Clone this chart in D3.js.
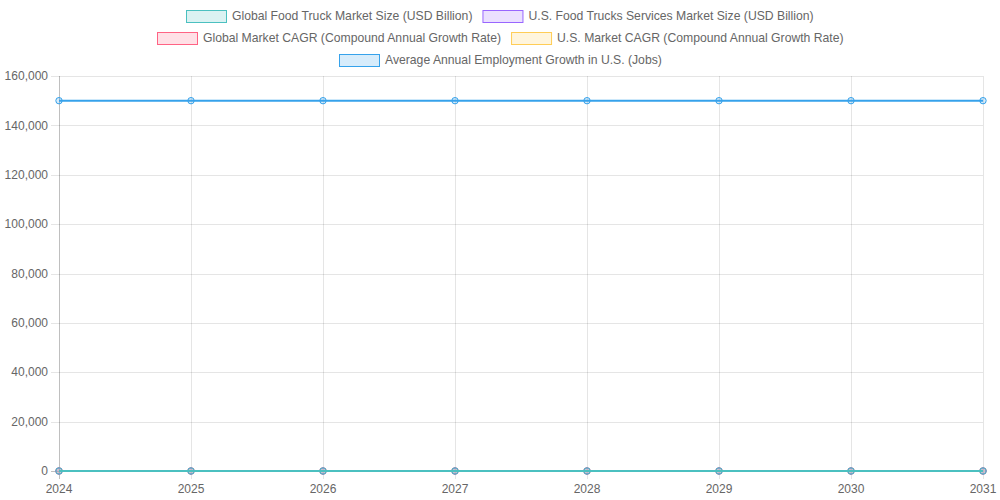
<!DOCTYPE html>
<html>
<head>
<meta charset="utf-8">
<script src="https://cdn.jsdelivr.net/npm/d3@7"></script>
<style>
  body { margin: 0; background: #fff; }
  svg { font-family: "Liberation Sans", Arial, sans-serif; }
</style>
</head>
<body>
<div id="chart"></div>
<script>
const years = [2024, 2025, 2026, 2027, 2028, 2029, 2030, 2031];
const globalMarketSize = [4.2, 4.5, 4.8, 5.1, 5.4, 5.8, 6.2, 6.6];
const usMarketSize = [1.7, 1.8, 1.9, 2.0, 2.1, 2.2, 2.3, 2.4];
const globalCagr = [6.8, 6.8, 6.8, 6.8, 6.8, 6.8, 6.8, 6.8];
const usCagr = [5.4, 5.4, 5.4, 5.4, 5.4, 5.4, 5.4, 5.4];
const employmentGrowth = [150000, 150000, 150000, 150000, 150000, 150000, 150000, 150000];
const yTicks = [0, 20000, 40000, 60000, 80000, 100000, 120000, 140000, 160000];

const series = [
  { name: `Global Food Truck Market Size (USD Billion)`, values: globalMarketSize, rgb: [75, 192, 192] },
  { name: `U.S. Food Trucks Services Market Size (USD Billion)`, values: usMarketSize, rgb: [153, 102, 255] },
  { name: `Global Market CAGR (Compound Annual Growth Rate)`, values: globalCagr, rgb: [255, 99, 132] },
  { name: `U.S. Market CAGR (Compound Annual Growth Rate)`, values: usCagr, rgb: [255, 205, 86] },
  { name: `Average Annual Employment Growth in U.S. (Jobs)`, values: employmentGrowth, rgb: [54, 162, 235] }
];
const legendRows = [[0, 1], [2, 3], [4]];

const width = 1000, height = 500;
const margin = { top: 76, right: 17, bottom: 29, left: 59 };

const svg = d3.select(`#chart`).append(`svg`)
    .attr(`width`, width)
    .attr(`height`, height);

const x = d3.scalePoint()
    .domain(years)
    .range([margin.left, width - margin.right]);
const y = d3.scaleLinear()
    .domain([0, 160000])
    .range([height - margin.bottom, margin.top]);

const rgb = (c) => `rgb(${c.join(`,`)})`;
const rgba = (c, a) => `rgba(${c.join(`,`)},${a})`;

// grid
svg.append(`g`)
  .selectAll(`line`)
  .data(yTicks)
  .join(`line`)
    .attr(`x1`, margin.left - 8)
    .attr(`x2`, width - margin.right)
    .attr(`y1`, (d) => Math.round(y(d)) + 0.5)
    .attr(`y2`, (d) => Math.round(y(d)) + 0.5)
    .attr(`stroke`, (d) => d === 0 ? `rgba(0,0,0,0.25)` : `rgba(0,0,0,0.1)`);

svg.append(`g`)
  .selectAll(`line`)
  .data(years)
  .join(`line`)
    .attr(`x1`, (d) => Math.round(x(d)) + 0.5)
    .attr(`x2`, (d) => Math.round(x(d)) + 0.5)
    .attr(`y1`, margin.top)
    .attr(`y2`, height - margin.bottom + 8)
    .attr(`stroke`, (d, i) => i === 0 ? `rgba(0,0,0,0.25)` : `rgba(0,0,0,0.1)`);

// tick labels
svg.append(`g`)
  .selectAll(`text`)
  .data(yTicks)
  .join(`text`)
    .attr(`x`, margin.left - 11)
    .attr(`y`, (d) => y(d))
    .attr(`dy`, `0.35em`)
    .attr(`text-anchor`, `end`)
    .attr(`font-size`, 12)
    .attr(`fill`, `#666`)
    .text(d3.format(`,`));

svg.append(`g`)
  .selectAll(`text`)
  .data(years)
  .join(`text`)
    .attr(`x`, (d) => x(d))
    .attr(`y`, height - margin.bottom + 18)
    .attr(`dy`, `0.35em`)
    .attr(`text-anchor`, `middle`)
    .attr(`font-size`, 12)
    .attr(`fill`, `#666`)
    .text((d) => d);

// lines, first dataset drawn last so it sits on top
const line = d3.line()
    .x((d, i) => x(years[i]))
    .y((d) => y(d));

const drawOrder = series.slice().reverse();
drawOrder.forEach((s) => {
  const g = svg.append(`g`);
  g.append(`path`)
      .datum(s.values)
      .attr(`fill`, `none`)
      .attr(`stroke`, rgb(s.rgb))
      .attr(`stroke-width`, 2)
      .attr(`d`, line);
  g.selectAll(`circle`)
    .data(s.values)
    .join(`circle`)
      .attr(`cx`, (d, i) => x(years[i]))
      .attr(`cy`, (d) => y(d))
      .attr(`r`, 3.2)
      .attr(`fill`, rgba(s.rgb, 0.2))
      .attr(`stroke`, rgb(s.rgb))
      .attr(`stroke-width`, 1);
});

// legend
const boxW = 40, boxH = 12, gap = 6, itemPad = 10, legendFont = 12.2;
const measure = svg.append(`text`).attr(`font-size`, legendFont).attr(`visibility`, `hidden`);
const textWidth = (t) => { measure.text(t); return measure.node().getComputedTextLength(); };

legendRows.forEach((row, r) => {
  const widths = row.map((i) => boxW + gap + textWidth(series[i].name));
  const total = d3.sum(widths) + itemPad * (row.length - 1);
  let cx = Math.round((width - total) / 2);
  const cy = 16 + r * 22;
  row.forEach((i, k) => {
    const s = series[i];
    svg.append(`rect`)
        .attr(`x`, cx + 0.5)
        .attr(`y`, cy - boxH / 2 + 0.5)
        .attr(`width`, boxW)
        .attr(`height`, boxH)
        .attr(`fill`, rgba(s.rgb, 0.2))
        .attr(`stroke`, rgb(s.rgb))
        .attr(`stroke-width`, 1);
    svg.append(`text`)
        .attr(`x`, cx + boxW + gap)
        .attr(`y`, cy)
        .attr(`dy`, `0.35em`)
        .attr(`font-size`, legendFont)
        .attr(`fill`, `#666`)
        .text(s.name);
    cx += widths[k] + itemPad;
  });
});
measure.remove();
</script>
</body>
</html>
